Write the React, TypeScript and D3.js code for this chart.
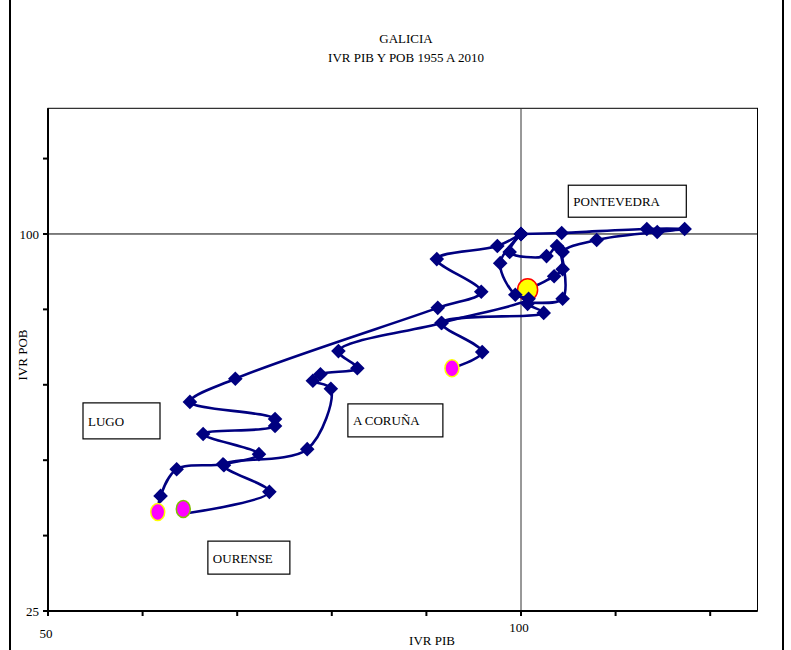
import React from "react";
import * as d3 from "d3";

// ---- data (IVR PIB = x, IVR POB = y), 1955 = 100 ----
const pontevedraPib = [100, 104.3, 113.3, 117.3, 114.4, 108.0, 104.4, 104.4, 103.5, 100.7];
const pontevedraPob = [100, 100.2, 101.0, 101.0, 100.4, 98.8, 96.4, 93.0, 91.6, 88.9];

const corunaPib = [100, 98.8, 102.7, 103.8, 104.4, 100.7, 102.4, 91.6, 95.9, 92.7];
const corunaPob = [100, 96.4, 95.6, 97.6, 87.1, 86.1, 84.3, 82.3, 76.5, 73.3];

const lugoPib = [100, 97.5, 91.1, 95.8, 91.2, 69.8, 65.0, 74.0, 74.0, 66.4, 72.3, 68.5, 63.6, 61.9, 61.6];
const lugoPob = [100, 97.6, 95.0, 88.5, 85.3, 71.2, 66.6, 63.2, 61.8, 60.2, 56.2, 54.2, 53.2, 47.9, 44.7];

const ourensePib = [100, 97.8, 99.4, 100.8, 91.6, 80.7, 82.7, 78.8, 78.0, 79.9, 77.4, 68.6, 73.4, 63.8];
const ourensePob = [100, 94.2, 87.9, 87.1, 82.3, 76.7, 73.3, 72.1, 70.8, 69.2, 57.2, 54.0, 48.7, 44.2];

// end-of-period markers (2010)
const endNames = ["PONTEVEDRA", "A CORUÑA", "LUGO", "OURENSE"];
const endPib = [100.7, 92.7, 61.6, 64.3];
const endPob = [88.9, 73.3, 44.7, 45.3];

const xTicks = [50, 60, 70, 80, 90, 100, 110, 120];
const yTicks = [25, 40, 55, 70, 85, 100, 115];
const xLabels = [50, 100];
const yLabels = [25, 100];

const provinceLabels = ["PONTEVEDRA", "A CORUÑA", "LUGO", "OURENSE"];
const labelPib = [105.0, 81.7, 53.7, 66.9];
const labelPob = [109.7, 66.2, 66.4, 38.9];

const W = 791;
const H = 650;
const FONT = "'Liberation Serif', 'Times New Roman', serif";

export default function App() {
  const x = d3.scaleLinear().domain([50, 125]).range([48, 757.5]);
  const y = d3.scaleLinear().domain([25, 125]).range([611, 108.3]);

  const series = [
    { pib: pontevedraPib, pob: pontevedraPob },
    { pib: corunaPib, pob: corunaPob },
    { pib: lugoPib, pob: lugoPob },
    { pib: ourensePib, pob: ourensePob },
  ];

  const line = d3
    .line<[number, number]>()
    .x((d) => x(d[0]))
    .y((d) => y(d[1]))
    .curve(d3.curveCatmullRom.alpha(0.5));

  const navy = "#000080";
  const diamond = (cx: number, cy: number, r: number) =>
    `M${cx},${cy - r}L${cx + r},${cy}L${cx},${cy + r}L${cx - r},${cy}Z`;

  const endFill = ["#ffff00", "#ff00ff", "#ff00ff", "#ff00ff"];
  const endStroke = ["#ff0000", "#ffff00", "#ffff00", "#80c000"];
  const endRx = [10, 7, 7, 7];
  const endRy = [11, 8.5, 8.5, 8.5];

  const labelBoxW = [118, 95, 77, 82];
  const labelBoxH = [32, 33, 36, 33];

  const x0 = x(50), x1 = x(125), yTop = y(125), yBot = y(25);

  return (
    <svg
      width={W}
      height={H}
      style={{ position: "absolute", left: 0, top: 0, background: "#fff" }}
      fontFamily={FONT}
    >
      <rect x={0} y={0} width={W} height={H} fill="#fff" />
      {/* outer chart border */}
      <line x1={10} y1={0} x2={10} y2={H} stroke="#000" strokeWidth={2} />
      <line x1={783} y1={0} x2={783} y2={H} stroke="#000" strokeWidth={2} />

      {/* title */}
      <text x={406} y={43} textAnchor="middle" fontSize={13}>GALICIA</text>
      <text x={406} y={62} textAnchor="middle" fontSize={13}>IVR PIB Y POB 1955 A 2010</text>

      {/* plot area frame */}
      <rect x={x0} y={yTop} width={x1 - x0} height={yBot - yTop} fill="none" stroke="#000" strokeWidth={1} />

      {/* reference lines at 100 */}
      <line x1={x(100)} y1={yTop} x2={x(100)} y2={yBot} stroke="#333" strokeWidth={1} />
      <line x1={x0} y1={y(100)} x2={x1} y2={y(100)} stroke="#000" strokeWidth={1} />

      {/* axes */}
      <line x1={x0} y1={yBot} x2={x1} y2={yBot} stroke="#000" strokeWidth={2} />
      <line x1={x0} y1={yTop} x2={x0} y2={yBot} stroke="#000" strokeWidth={2} />
      {xTicks.map((t) => (
        <line key={"xt" + t} x1={x(t)} y1={yBot} x2={x(t)} y2={yBot + 5} stroke="#000" strokeWidth={2} />
      ))}
      {yTicks.map((t) => (
        <line key={"yt" + t} x1={x0 - 5} y1={y(t)} x2={x0} y2={y(t)} stroke="#000" strokeWidth={2} />
      ))}
      {xLabels.map((t, i) => (
        <text key={"xl" + t} x={x(t) - 2} y={i === 0 ? 638 : 632} textAnchor="middle" fontSize={13}>
          {t}
        </text>
      ))}
      {yLabels.map((t) => (
        <text key={"yl" + t} x={39} y={y(t) + 5} textAnchor="end" fontSize={13}>
          {t}
        </text>
      ))}
      <text x={432} y={645} textAnchor="middle" fontSize={13}>IVR PIB</text>
      <text x={27} y={355} textAnchor="middle" fontSize={13} transform="rotate(-90 27 355)">IVR POB</text>

      {/* province label boxes */}
      {provinceLabels.map((name, i) => {
        const bx = x(labelPib[i]);
        const by = y(labelPob[i]);
        return (
          <g key={name}>
            <rect x={bx} y={by} width={labelBoxW[i]} height={labelBoxH[i]} fill="#fff" stroke="#000" strokeWidth={1.2} />
            <text x={bx + 5} y={by + labelBoxH[i] / 2 + 5} fontSize={13}>{name}</text>
          </g>
        );
      })}

      {/* series */}
      {series.map((s, si) => {
        const pts: [number, number][] = s.pib.map((v, i) => [v, s.pob[i]]);
        return (
          <g key={"s" + si}>
            <path d={line(pts) || ""} fill="none" stroke={navy} strokeWidth={2.6} />
            {si === 0 && (
              <ellipse cx={x(endPib[0])} cy={y(endPob[0])} rx={endRx[0]} ry={endRy[0]} fill={endFill[0]} stroke={endStroke[0]} strokeWidth={1.5} />
            )}
            {pts.slice(0, pts.length - 1).map((p, i) => (
              <path key={i} d={diamond(x(p[0]), y(p[1]), 7.3)} fill={navy} />
            ))}
          </g>
        );
      })}

      {/* end markers 2010 */}
      {endNames.map((n, i) =>
        i === 0 ? null : (
          <ellipse key={n} cx={x(endPib[i])} cy={y(endPob[i])} rx={endRx[i]} ry={endRy[i]} fill={endFill[i]} stroke={endStroke[i]} strokeWidth={1.5} />
        )
      )}
    </svg>
  );
}
